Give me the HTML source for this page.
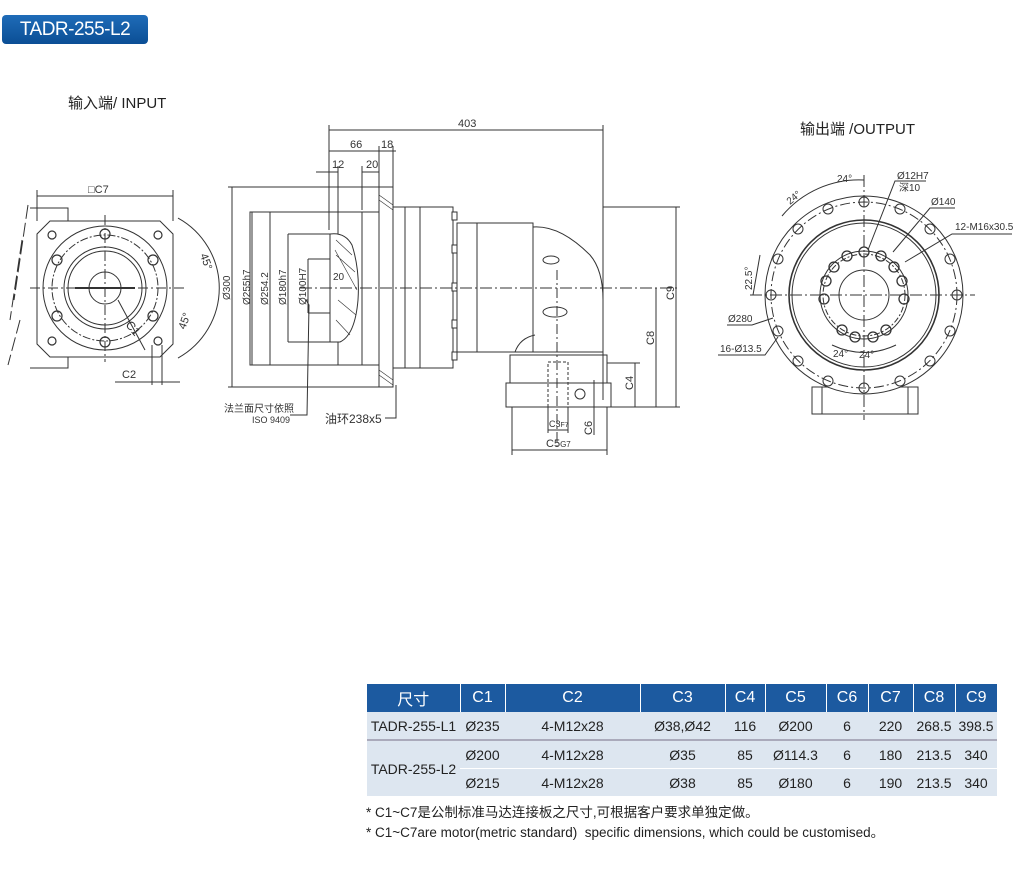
<!DOCTYPE html>
<html><head><meta charset="utf-8"><style>
body{margin:0;background:#fff;width:1018px;height:880px;overflow:hidden;position:relative;font-family:"Liberation Sans","Noto Sans CJK SC",sans-serif;}
.badge{position:absolute;left:2px;top:15px;width:146px;height:29px;border-radius:4px;background:linear-gradient(#1f6cb8,#0b4e95);color:#fff;font-size:19px;line-height:29px;text-align:center;letter-spacing:-0.5px}
.lbl{position:absolute;font-size:15px;color:#222}
table{position:absolute;left:367px;top:684px;border-collapse:collapse;font-size:14px;color:#222;table-layout:fixed;width:630px}
td,th{text-align:center;padding:0;height:27px;white-space:nowrap;overflow:visible}
th{background:#1c5aa0;color:#fff;font-weight:normal;font-size:16px;height:28px;border-right:1px solid #fff}
tr.r td{background:#dde6f0}
.note{position:absolute;left:366px;font-size:13.5px;color:#222}
svg{position:absolute;left:0;top:0}
svg text{font-family:"Liberation Sans","Noto Sans CJK SC",sans-serif;fill:#333}
</style></head><body>
<div class="badge">TADR-255-L2</div>
<div class="lbl" style="left:68px;top:92px">输入端/ INPUT</div>
<div class="lbl" style="left:800px;top:118px">输出端 /OUTPUT</div>

<svg width="1018" height="880" viewBox="0 0 1018 880" fill="none" stroke="#333" stroke-width="1">
<g>
<line x1="37" y1="196" x2="173" y2="196"/><text x="88" y="193" font-size="11" stroke="none">□C7</text>
<line x1="37" y1="190" x2="37" y2="221"/><line x1="173" y1="190" x2="173" y2="221"/>
<path d="M30 208 H68 V221 M30 368 H68 V357"/>
<polygon points="50,221 160,221 173,234 173,344 160,357 50,357 37,344 37,234"/>
<circle cx="105" cy="288" r="62"/>
<circle cx="105" cy="288" r="53" stroke-dasharray="8,2,2,2"/>
<circle cx="105" cy="288" r="41"/><circle cx="105" cy="288" r="37"/>
<circle cx="105" cy="288" r="16"/>
<line x1="30" y1="288" x2="185" y2="288" stroke-dasharray="10,3,2,3"/>
<line x1="105" y1="215" x2="105" y2="362" stroke-dasharray="10,3,2,3"/>
<line x1="75" y1="288" x2="135" y2="288" stroke-width="2"/>
<g stroke-width="1.2">
<circle cx="105" cy="234" r="5"/><circle cx="105" cy="342" r="5"/>
<circle cx="57" cy="260" r="5"/><circle cx="153" cy="260" r="5"/>
<circle cx="57" cy="316" r="5"/><circle cx="153" cy="316" r="5"/>
<circle cx="52" cy="235" r="4"/><circle cx="158" cy="235" r="4"/>
<circle cx="52" cy="341" r="4"/><circle cx="158" cy="341" r="4"/>
</g>
<path d="M178 218 A80 80 0 0 1 178 358"/>
<text x="200" y="255" font-size="11" stroke="none" transform="rotate(70 200 255)">45°</text>
<text x="185" y="330" font-size="11" stroke="none" transform="rotate(-70 185 330)">45°</text>
<text x="125" y="325" font-size="12" stroke="none" transform="rotate(50 125 325)">C1</text>
<line x1="118" y1="300" x2="145" y2="350"/>
<line x1="152" y1="345" x2="152" y2="385"/><line x1="162" y1="345" x2="162" y2="385"/>
<line x1="115" y1="382" x2="180" y2="382"/><text x="122" y="378" font-size="11" stroke="none">C2</text>
<path d="M28 205 L14 300 M22 240 L10 320 M20 320 L8 365" stroke-dasharray="14,4"/>
</g>

<g>
<line x1="329" y1="130" x2="603" y2="130"/><text x="458" y="127" font-size="11" stroke="none">403</text>
<line x1="329" y1="125" x2="329" y2="230"/><line x1="603" y1="125" x2="603" y2="400"/>
<line x1="329" y1="151" x2="379" y2="151"/><line x1="379" y1="151" x2="396" y2="151"/>
<text x="350" y="148" font-size="11" stroke="none">66</text><text x="381" y="148" font-size="11" stroke="none">18</text>
<line x1="379" y1="146" x2="379" y2="187"/><line x1="393" y1="146" x2="393" y2="187"/>
<line x1="316" y1="172" x2="338" y2="172"/><text x="332" y="168" font-size="11" stroke="none">12</text>
<line x1="362" y1="172" x2="379" y2="172"/><text x="366" y="168" font-size="11" stroke="none">20</text>
<line x1="338" y1="166" x2="338" y2="240"/><line x1="362" y1="166" x2="362" y2="210"/>
<line x1="232" y1="187" x2="232" y2="387"/><line x1="228" y1="187" x2="379" y2="187"/><line x1="228" y1="387" x2="379" y2="387"/>
<line x1="252" y1="212" x2="252" y2="365"/><line x1="270" y1="212" x2="270" y2="365"/>
<line x1="288" y1="234" x2="288" y2="342"/><line x1="308" y1="259" x2="308" y2="313"/>
<line x1="288" y1="234" x2="338" y2="234"/><line x1="288" y1="342" x2="338" y2="342"/>
<line x1="308" y1="259" x2="350" y2="259"/><line x1="308" y1="313" x2="350" y2="313"/>
<g font-size="10" stroke="none">
<text transform="translate(230 300) rotate(-90)">Ø300</text>
<text transform="translate(250 305) rotate(-90)">Ø255h7</text>
<text transform="translate(268 305) rotate(-90)">Ø254.2</text>
<text transform="translate(286 305) rotate(-90)">Ø180h7</text>
<text transform="translate(306 305) rotate(-90)">Ø100H7</text>
</g>
<rect x="250" y="212" width="129" height="153"/>
<line x1="338" y1="212" x2="338" y2="365"/><line x1="362" y1="212" x2="362" y2="365"/>
<path d="M330 234 Q345 232 352 245 Q360 270 358 300 Q355 335 340 342 L330 342 Z" fill="#fff"/>
<path d="M336 240 L352 255 M336 255 L355 272 M338 300 L356 315 M336 320 L350 335 M335 250 L357 290" stroke-width="0.6"/>
<text x="333" y="280" font-size="10" stroke="none">20</text>
<rect x="379" y="187" width="14" height="200"/>
<path d="M379 195 L393 205 M379 200 L393 210 M379 370 L393 380 M379 375 L393 385" stroke-width="0.6"/>
<rect x="393" y="207" width="12" height="161"/>
<rect x="405" y="207" width="48" height="161"/>
<line x1="420" y1="207" x2="420" y2="368"/>
<g fill="#fff"><rect x="452" y="212" width="5" height="8"/><rect x="452" y="245" width="5" height="8"/><rect x="452" y="283" width="5" height="8"/><rect x="452" y="320" width="5" height="8"/><rect x="452" y="352" width="5" height="8"/></g>
<rect x="457" y="223" width="76" height="129"/>
<line x1="477" y1="223" x2="477" y2="352"/>
<path d="M533 227 Q560 225 590 255 Q603 270 603 300 V352 H533"/>
<ellipse cx="551" cy="260" rx="8" ry="4"/><ellipse cx="555" cy="312" rx="12" ry="5"/>
<line x1="300" y1="288" x2="680" y2="288" stroke-dasharray="12,3,2,3"/>
<line x1="557" y1="270" x2="557" y2="450" stroke-dasharray="10,3,2,3"/>
<path d="M515 352 Q520 338 535 335 M510 355 H607 V383 H510 Z"/>
<rect x="506" y="383" width="105" height="24"/>
<rect x="548" y="362" width="20" height="45" stroke-dasharray="3,2"/>
<circle cx="580" cy="394" r="5"/>
<line x1="594" y1="380" x2="594" y2="435"/>
<line x1="603" y1="207" x2="680" y2="207"/><line x1="603" y1="407" x2="680" y2="407"/>
<line x1="676" y1="207" x2="676" y2="407"/><text transform="translate(674 300) rotate(-90)" font-size="11" stroke="none">C9</text>
<line x1="656" y1="288" x2="656" y2="407"/><text transform="translate(654 345) rotate(-90)" font-size="11" stroke="none">C8</text>
<line x1="607" y1="363" x2="640" y2="363"/><line x1="635" y1="363" x2="635" y2="407"/><text transform="translate(633 390) rotate(-90)" font-size="11" stroke="none">C4</text>
<line x1="512" y1="407" x2="512" y2="455"/><line x1="607" y1="407" x2="607" y2="455"/>
<line x1="512" y1="450" x2="607" y2="450"/><text x="546" y="447" font-size="11" stroke="none">C5<tspan font-size="8">G7</tspan></text>
<line x1="548" y1="407" x2="548" y2="433"/><line x1="568" y1="407" x2="568" y2="433"/>
<line x1="548" y1="430" x2="568" y2="430"/><text x="549" y="427" font-size="9" stroke="none">C3<tspan font-size="7">F7</tspan></text>
<text transform="translate(592 435) rotate(-90)" font-size="11" stroke="none">C6</text>
<path d="M308 300 L306 300 L309 305 L307 415 L290 415"/>
<text x="224" y="412" font-size="10" stroke="none">法兰面尺寸依照</text>
<text x="252" y="423" font-size="9" stroke="none">ISO 9409</text>
<path d="M396 385 V418 H385"/>
<text x="325" y="423" font-size="12" stroke="none">油环238x5</text>
</g>

<g>
<rect x="812" y="387" width="106" height="27"/>
<line x1="822" y1="387" x2="822" y2="414"/><line x1="908" y1="387" x2="908" y2="414"/>
<circle cx="864" cy="295" r="99" fill="#fff"/>
<circle cx="864" cy="295" r="93" stroke-dasharray="10,3,2,3"/>
<circle cx="864" cy="295" r="75" stroke-width="1.6"/><circle cx="864" cy="295" r="72"/>
<circle cx="864" cy="295" r="44"/>
<circle cx="864" cy="295" r="41" stroke-dasharray="6,2,2,2"/>
<circle cx="864" cy="295" r="25"/>
<line x1="750" y1="295" x2="975" y2="295" stroke-dasharray="12,3,2,3"/>
<line x1="864" y1="175" x2="864" y2="420" stroke-dasharray="12,3,2,3"/>
<g>
<circle cx="864" cy="202" r="5"/><circle cx="900" cy="209" r="5"/><circle cx="930" cy="229" r="5"/><circle cx="950" cy="259" r="5"/><circle cx="957" cy="295" r="5"/><circle cx="950" cy="331" r="5"/><circle cx="930" cy="361" r="5"/><circle cx="900" cy="381" r="5"/><circle cx="864" cy="388" r="5"/><circle cx="828" cy="381" r="5"/><circle cx="798" cy="361" r="5"/><circle cx="778" cy="331" r="5"/><circle cx="771" cy="295" r="5"/><circle cx="778" cy="259" r="5"/><circle cx="798" cy="229" r="5"/><circle cx="828" cy="209" r="5"/>
</g>
<g stroke-width="1.3">
<circle cx="864" cy="252" r="5"/>
<circle cx="847" cy="256" r="5"/><circle cx="881" cy="256" r="5"/><circle cx="834" cy="267" r="5"/><circle cx="894" cy="267" r="5"/>
<circle cx="826" cy="281" r="5"/><circle cx="902" cy="281" r="5"/><circle cx="824" cy="299" r="5"/><circle cx="904" cy="299" r="5"/>
<circle cx="842" cy="330" r="5"/><circle cx="886" cy="330" r="5"/><circle cx="855" cy="337" r="5"/><circle cx="873" cy="337" r="5"/>
</g>
<path d="M782 216 A100 100 0 0 1 864 180" /><text x="837" y="182" font-size="10" stroke="none">24°</text>
<text x="790" y="205" font-size="10" stroke="none" transform="rotate(-40 790 205)">24°</text>
<text transform="translate(752 290) rotate(-90)" font-size="10" stroke="none">22.5°</text>
<path d="M760 255 L753 295"/>
<path d="M832 345 Q864 360 896 345"/><text x="833" y="357" font-size="10" stroke="none">24°</text><text x="859" y="358" font-size="10" stroke="none">24°</text>
<text x="897" y="179" font-size="10" stroke="none">Ø12H7</text><text x="899" y="191" font-size="10" stroke="none">深10</text>
<path d="M926 181 H895 L868 250"/>
<text x="931" y="205" font-size="10" stroke="none">Ø140</text><path d="M955 208 H930 L893 252"/>
<text x="955" y="230" font-size="10" stroke="none">12-M16x30.5</text><path d="M1012 234 H952 L905 262"/>
<text x="728" y="322" font-size="10" stroke="none">Ø280</text><path d="M727 325 H752 L773 318"/>
<text x="720" y="352" font-size="10" stroke="none">16-Ø13.5</text><path d="M718 355 H765 L778 337"/>
</g>
</svg>

<table>
<colgroup><col style="width:93px"><col style="width:45px"><col style="width:135px"><col style="width:85px"><col style="width:40px"><col style="width:61px"><col style="width:42px"><col style="width:45px"><col style="width:42px"><col style="width:42px"></colgroup>
<tr><th>尺寸</th><th>C1</th><th>C2</th><th>C3</th><th>C4</th><th>C5</th><th>C6</th><th>C7</th><th>C8</th><th style="border-right:0">C9</th></tr>
<tr class="r"><td>TADR-255-L1</td><td>Ø235</td><td>4-M12x28</td><td>Ø38,Ø42</td><td>116</td><td>Ø200</td><td>6</td><td>220</td><td>268.5</td><td>398.5</td></tr>
<tr class="r"><td rowspan="2" style="border-top:2px solid #aab">TADR-255-L2</td><td style="border-top:2px solid #aab">Ø200</td><td style="border-top:2px solid #aab">4-M12x28</td><td style="border-top:2px solid #aab">Ø35</td><td style="border-top:2px solid #aab">85</td><td style="border-top:2px solid #aab">Ø114.3</td><td style="border-top:2px solid #aab">6</td><td style="border-top:2px solid #aab">180</td><td style="border-top:2px solid #aab">213.5</td><td style="border-top:2px solid #aab">340</td></tr>
<tr class="r"><td style="border-top:1px solid #fff">Ø215</td><td style="border-top:1px solid #fff">4-M12x28</td><td style="border-top:1px solid #fff">Ø38</td><td style="border-top:1px solid #fff">85</td><td style="border-top:1px solid #fff">Ø180</td><td style="border-top:1px solid #fff">6</td><td style="border-top:1px solid #fff">190</td><td style="border-top:1px solid #fff">213.5</td><td style="border-top:1px solid #fff">340</td></tr>
</table>
<div class="note" style="top:801px">* C1~C7是公制标准马达连接板之尺寸,可根据客户要求单独定做。</div>
<div class="note" style="top:821px">* C1~C7are motor(metric standard)&nbsp; specific dimensions, which could be customised。</div>
</body></html>
